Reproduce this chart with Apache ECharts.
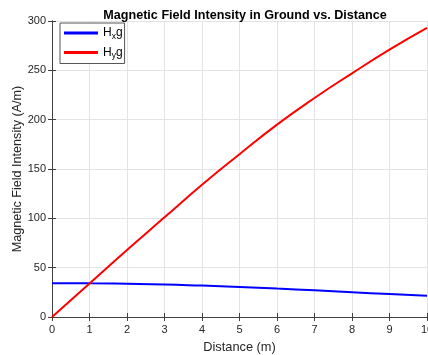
<!DOCTYPE html>
<html>
<head>
<meta charset="utf-8">
<script src="https://cdn.jsdelivr.net/npm/echarts@6/dist/echarts.min.js"></script>
<style>
  html, body { margin: 0; padding: 0; background: #fff; }
  #main { width: 428px; height: 355px; }
</style>
</head>
<body>
<div id="main"></div>
<script>
// distance (m) and field values
const distance = [0, 1, 2, 3, 4, 5, 6, 7, 8, 9, 10];
const hxg = [34.3, 34.2, 33.7, 33.0, 31.8, 30.5, 28.8, 27.0, 25.1, 23.3, 21.5];
const hyg = [0, 34, 68, 101, 134, 165, 195, 222, 247, 271, 293];
const xTicks = [0, 10, 1];   // min, max, interval
const yTicks = [0, 300, 50];

const FONT = 'Liberation Sans, Arial, sans-serif';
const AXIS = '#404040';

const toPairs = (xs, ys) => xs.map((x, i) => [x, ys[i]]);

const chart = echarts.init(document.getElementById('main'));

// shared axis pieces (matlab style: inward ticks, boxed)
const tick = { show: true, inside: true, length: 4, lineStyle: { color: AXIS, width: 1 } };
const line = { show: true, lineStyle: { color: AXIS, width: 1 } };
const label = { color: '#262626', fontSize: 11, fontFamily: FONT };

chart.setOption({
	animation: false,
	title: {
		text: 'Magnetic Field Intensity in Ground vs. Distance',
		left: 240,
		textAlign: 'center',
		top: 4,
		textStyle: { fontSize: 12.6, fontWeight: 'bold', color: '#000', fontFamily: FONT },
	},
	legend: {
		orient: 'vertical',
		left: 60,
		top: 23,
		padding: [4, 2, 3, 4],
		itemGap: 5.5,
		itemWidth: 34,
		itemHeight: 3,
		icon: 'rect',
		borderColor: '#555',
		borderWidth: 1,
		backgroundColor: '#fff',
		formatter: function (name) {
			// H_x g / H_y g with subscript
			return '{a|H}{s|' + name.charAt(1) + '}{a|g}';
		},
		textStyle: {
			fontFamily: FONT,
			rich: {
				a: { fontSize: 12, color: '#000', fontFamily: FONT },
				s: { fontSize: 8.5, color: '#000', verticalAlign: 'bottom', padding: [7, 0, 0, 0], fontFamily: FONT },
			},
		},
		data: ['Hxg', 'Hyg'],
	},
	grid: { left: 52, right: 1, top: 21, bottom: 38, outerBoundsMode: 'none' },
	xAxis: [
		{
			type: 'value',
			min: xTicks[0], max: xTicks[1], interval: xTicks[2],
			name: 'Distance (m)',
			nameLocation: 'middle',
			nameGap: 24,
			nameMoveOverlap: false,
			nameTextStyle: { fontSize: 12.8, color: '#262626', fontFamily: FONT },
			axisLine: line,
			axisTick: tick,
			axisLabel: Object.assign({ margin: 7 }, label),
			splitLine: { show: true, lineStyle: { color: '#e3e3e3', width: 1 } },
		},
		{
			type: 'value', position: 'top',
			min: xTicks[0], max: xTicks[1], interval: xTicks[2],
			axisLine: line, axisTick: tick,
			axisLabel: { show: false }, splitLine: { show: false },
		},
	],
	yAxis: [
		{
			type: 'value',
			min: yTicks[0], max: yTicks[1], interval: yTicks[2],
			name: 'Magnetic Field Intensity (A/m)',
			nameLocation: 'middle',
			nameGap: 28,
			nameMoveOverlap: false,
			nameTextStyle: { fontSize: 12.6, color: '#262626', fontFamily: FONT },
			axisLine: line,
			axisTick: tick,
			axisLabel: Object.assign({ margin: 6 }, label),
			splitLine: { show: true, lineStyle: { color: '#e3e3e3', width: 1 } },
		},
		{
			type: 'value', position: 'right',
			min: yTicks[0], max: yTicks[1], interval: yTicks[2],
			axisLine: line, axisTick: tick,
			axisLabel: { show: false }, splitLine: { show: false },
		},
	],
	series: [
		{
			name: 'Hxg',
			type: 'line',
			data: toPairs(distance, hxg),
			smooth: true,
			symbol: 'none',
			lineStyle: { color: '#0000ff', width: 2 },
			itemStyle: { color: '#0000ff' },
		},
		{
			name: 'Hyg',
			type: 'line',
			data: toPairs(distance, hyg),
			smooth: true,
			symbol: 'none',
			lineStyle: { color: '#ff0000', width: 2 },
			itemStyle: { color: '#ff0000' },
		},
	],
});
</script>
</body>
</html>
